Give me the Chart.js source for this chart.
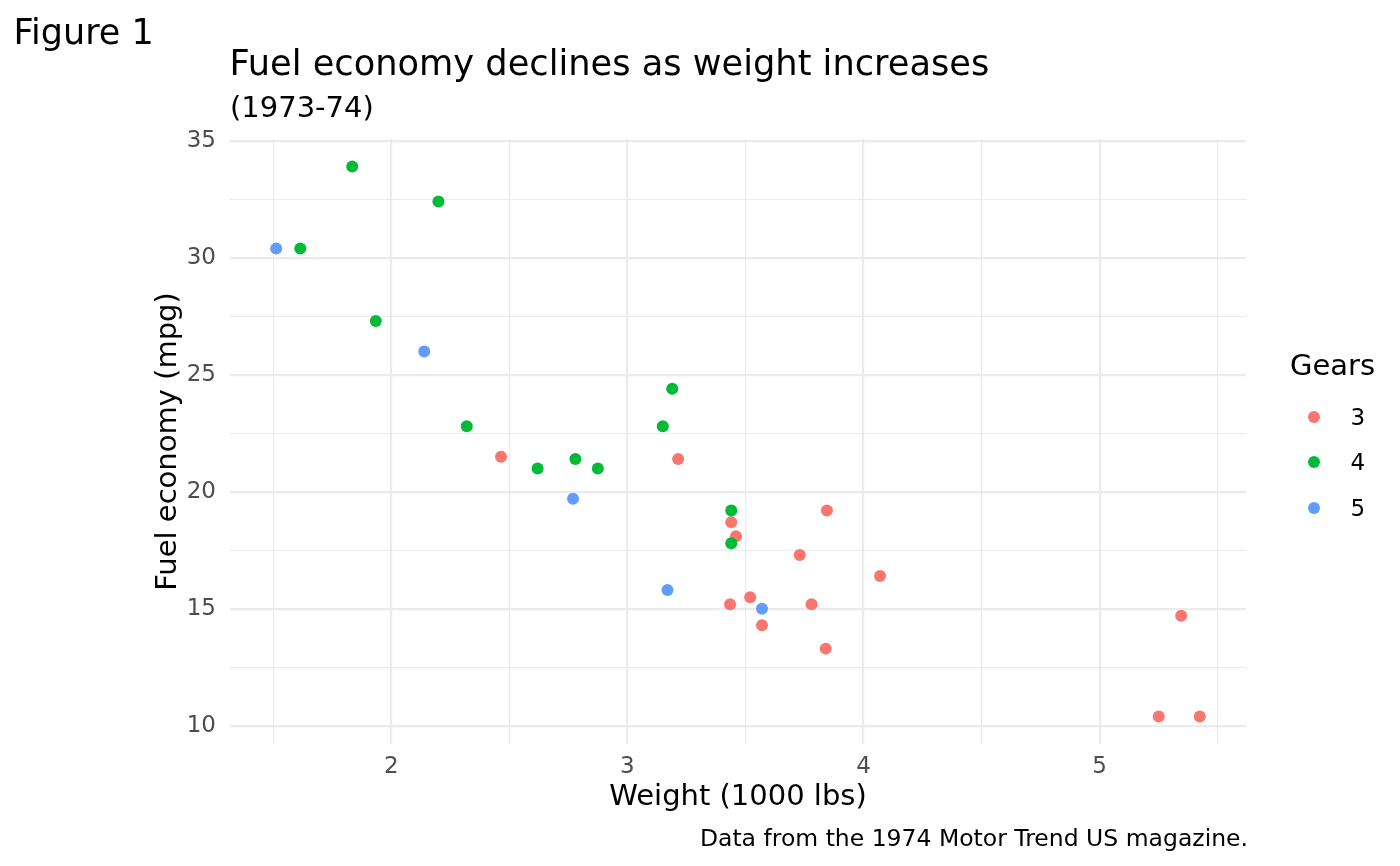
<!DOCTYPE html>
<html>
<head>
<meta charset="utf-8">
<script src="https://cdn.jsdelivr.net/npm/chart.js@4/dist/chart.umd.min.js"></script>
<style>
  html, body { margin: 0; padding: 0; background: #ffffff; }
  #wrap { position: relative; width: 1400px; height: 866px; overflow: hidden; font-family: "DejaVu Sans", sans-serif; }
  #c { position: absolute; left: 0; top: 0; }
  .t { position: absolute; white-space: nowrap; color: #000; }
  .dot { position: absolute; width: 12px; height: 12px; border-radius: 50%; }
</style>
</head>
<body>
<div id="wrap">
  <canvas id="c" width="1400" height="866"></canvas>
  <div class="t" id="tag" style="left:13.5px; top:15px; font-size:35px; line-height:35px;"></div>
  <div class="t" id="title" style="left:229.5px; top:45px; font-size:35.2px; line-height:35px;"></div>
  <div class="t" id="subtitle" style="left:230px; top:93px; font-size:29px; line-height:29px;"></div>
  <div class="t" id="caption" style="right:152px; top:826.5px; font-size:23.5px; line-height:23px;"></div>
  <div id="legend"></div>
</div>
<script>
// ---- data (mtcars) ----
const weight = [2.620, 2.875, 2.320, 3.215, 3.440, 3.460, 3.570, 3.190, 3.150, 3.440, 3.440,
                4.070, 3.730, 3.780, 5.250, 5.424, 5.345, 2.200, 1.615, 1.835, 2.465, 3.520,
                3.435, 3.840, 3.845, 1.935, 2.140, 1.513, 3.170, 2.770, 3.570, 2.780];
const mpg = [21.0, 21.0, 22.8, 21.4, 18.7, 18.1, 14.3, 24.4, 22.8, 19.2, 17.8,
             16.4, 17.3, 15.2, 10.4, 10.4, 14.7, 32.4, 30.4, 33.9, 21.5, 15.5,
             15.2, 13.3, 19.2, 27.3, 26.0, 30.4, 15.8, 19.7, 15.0, 21.4];
const gears = [4, 4, 4, 3, 3, 3, 3, 4, 4, 4, 4,
               3, 3, 3, 3, 3, 3, 4, 4, 4, 3, 3,
               3, 3, 3, 4, 5, 5, 5, 5, 5, 4];
const gearLevels = [3, 4, 5];
const gearColors = ["#F8766D", "#00BA38", "#619CFF"];

const xMajorTicks = [2, 3, 4, 5];
const xMinorTicks = [1.5, 2.5, 3.5, 4.5, 5.5];
const yMajorTicks = [10, 15, 20, 25, 30, 35];
const yMinorTicks = [12.5, 17.5, 22.5, 27.5, 32.5];

const figureTag = "Figure 1";
const titleText = "Fuel economy declines as weight increases";
const subtitleText = "(1973-74)";
const captionText = "Data from the 1974 Motor Trend US magazine.";
const xTitle = "Weight (1000 lbs)";
const yTitle = "Fuel economy (mpg)";
const legendTitle = "Gears";

// ---- ranges (ggplot 5% expansion) ----
const xSpan = Math.max(...weight) - Math.min(...weight);
const ySpan = Math.max(...mpg) - Math.min(...mpg);
const xMin = Math.min(...weight) - 0.05 * xSpan, xMax = Math.max(...weight) + 0.05 * xSpan;
const yMin = Math.min(...mpg) - 0.05 * ySpan, yMax = Math.max(...mpg) + 0.05 * ySpan;

// ---- text ----
document.getElementById('tag').textContent = figureTag;
document.getElementById('title').textContent = titleText;
document.getElementById('subtitle').textContent = subtitleText;
document.getElementById('caption').textContent = captionText;

const legend = document.getElementById('legend');
const lt = document.createElement('div');
lt.className = 't';
lt.style.cssText = 'left:1290px; top:350.5px; font-size:29px; line-height:29px;';
lt.textContent = legendTitle;
legend.appendChild(lt);
const keyY = [417, 462.3, 508];
gearLevels.forEach((g, i) => {
  const d = document.createElement('div');
  d.className = 'dot';
  d.style.left = (1314.2 - 6) + 'px';
  d.style.top = (keyY[i] - 6) + 'px';
  d.style.background = gearColors[i];
  legend.appendChild(d);
  const l = document.createElement('div');
  l.className = 't';
  l.style.cssText = 'left:1350.5px; font-size:23px; line-height:23px;';
  l.style.top = (keyY[i] + 8.3 - 19.5) + 'px';
  l.textContent = String(g);
  legend.appendChild(l);
});

// ---- datasets ----
const datasets = gearLevels.map((g, i) => ({
  label: String(g),
  data: weight.map((w, k) => ({ x: w, y: mpg[k], g: gears[k] }))
              .filter(p => p.g === g)
              .map(p => ({ x: p.x, y: p.y })),
  backgroundColor: gearColors[i],
  borderWidth: 0,
  pointRadius: 6,
  pointHoverRadius: 6,
  order: 3 - i
}));

const isMajor = (arr, v) => arr.some(m => Math.abs(m - v) < 1e-9);

new Chart(document.getElementById('c'), {
  type: 'scatter',
  data: { datasets },
  options: {
    responsive: false,
    animation: false,
    events: [],
    layout: { padding: { left: 151, right: 154, top: 139, bottom: 51 } },
    plugins: { legend: { display: false }, title: { display: false }, tooltip: { enabled: false } },
    scales: {
      x: {
        type: 'linear',
        min: xMin, max: xMax,
        afterFit: s => { s.height = 71; },
        afterBuildTicks: s => {
          s.ticks = [...xMinorTicks, ...xMajorTicks].sort((a, b) => a - b).map(v => ({ value: v }));
        },
        border: { display: false },
        grid: {
          drawTicks: false,
          color: '#EBEBEB',
          lineWidth: ctx => (ctx.tick && isMajor(xMajorTicks, ctx.tick.value)) ? 2.2 : 1.1
        },
        ticks: {
          autoSkip: false, maxRotation: 0, padding: 9,
          color: '#4D4D4D',
          font: { family: 'DejaVu Sans', size: 23 },
          callback: v => isMajor(xMajorTicks, v) ? String(v) : ''
        },
        title: {
          display: true, text: xTitle, color: '#000',
          padding: 0,
          font: { family: 'DejaVu Sans', size: 29, lineHeight: 1.2 }
        }
      },
      y: {
        type: 'linear',
        min: yMin, max: yMax,
        afterFit: s => { s.width = 79; },
        afterBuildTicks: s => {
          s.ticks = [...yMinorTicks, ...yMajorTicks].sort((a, b) => a - b).map(v => ({ value: v }));
        },
        border: { display: false },
        grid: {
          drawTicks: false,
          color: '#EBEBEB',
          lineWidth: ctx => (ctx.tick && isMajor(yMajorTicks, ctx.tick.value)) ? 2.2 : 1.1
        },
        ticks: {
          autoSkip: false, padding: 14,
          color: '#4D4D4D',
          font: { family: 'DejaVu Sans', size: 23 },
          callback: v => isMajor(yMajorTicks, v) ? String(v) : ''
        },
        title: {
          display: true, text: yTitle, color: '#000',
          padding: 0,
          font: { family: 'DejaVu Sans', size: 29, lineHeight: 1.2 }
        }
      }
    }
  }
});
</script>
</body>
</html>
